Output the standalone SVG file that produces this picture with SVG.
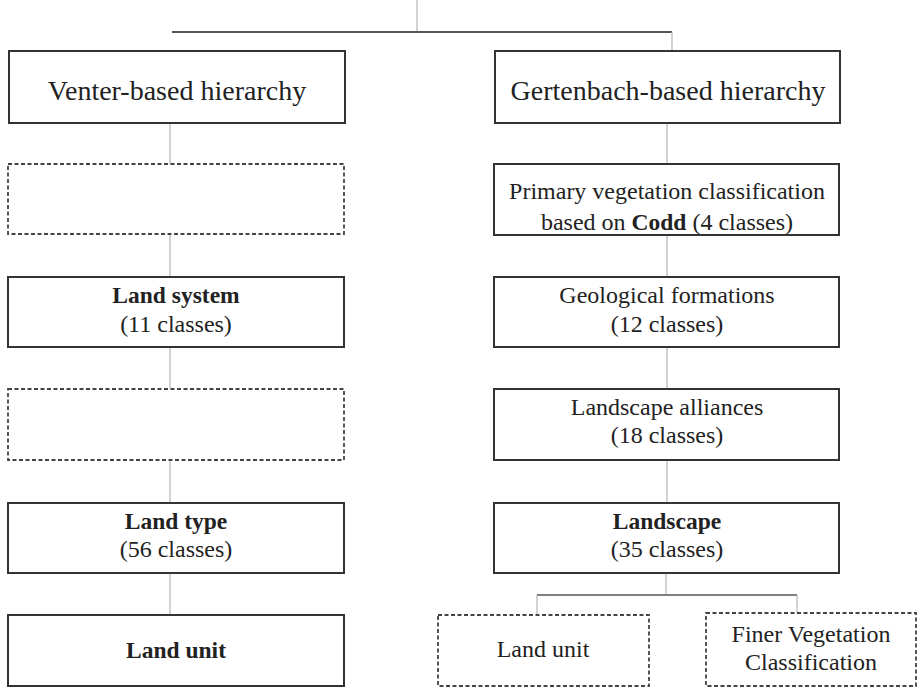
<svg xmlns="http://www.w3.org/2000/svg" width="924" height="687" viewBox="0 0 924 687">
<style>
.box{fill:#fff;stroke:#333;stroke-width:2}
.dash{fill:#fff;stroke:#444;stroke-width:1.8;stroke-dasharray:4 2.5}
.c{stroke:#b5b5b5;stroke-width:1.2;fill:none}
.h{stroke:#555;stroke-width:2;fill:none}
text{font-family:"Liberation Serif","Times New Roman",serif;fill:#222;text-anchor:middle}
.t{font-size:28px}
.s{font-size:24px}
.b{font-weight:bold;font-size:23.5px}
</style>
<rect width="924" height="687" fill="#fff"/>
<g id="connectors">
<line class="c" x1="417" y1="0" x2="417" y2="32"/>
<line class="h" x1="172" y1="32" x2="672" y2="32"/>
<line class="c" x1="672" y1="32" x2="672" y2="51"/>
<line class="c" x1="170" y1="123" x2="170" y2="164"/>
<line class="c" x1="170" y1="234" x2="170" y2="277"/>
<line class="c" x1="170" y1="347" x2="170" y2="389"/>
<line class="c" x1="170" y1="460" x2="170" y2="503"/>
<line class="c" x1="170" y1="573" x2="170" y2="615"/>
<line class="c" x1="667" y1="123" x2="667" y2="164"/>
<line class="c" x1="667" y1="235" x2="667" y2="277"/>
<line class="c" x1="667" y1="347" x2="667" y2="389"/>
<line class="c" x1="667" y1="460" x2="667" y2="503"/>
<line class="c" x1="666" y1="573" x2="666" y2="595"/>
<line class="h" x1="537" y1="595" x2="797" y2="595" style="stroke-width:1.6"/>
<line class="c" x1="537" y1="595" x2="537" y2="615"/>
<line class="c" x1="797" y1="595" x2="797" y2="613"/>
</g>
<g id="venter">
<rect class="box" x="9" y="51" width="336" height="72"/>
<text class="t" x="177" y="100">Venter-based hierarchy</text>
</g>
<g id="gertenbach">
<rect class="box" x="495" y="51" width="345" height="72"/>
<text class="t" x="668" y="100">Gertenbach-based hierarchy</text>
</g>
<g id="left-empty-1">
<rect class="dash" x="8" y="164" width="336" height="70"/>
</g>
<g id="land-system">
<rect class="box" x="8" y="277" width="336" height="70"/>
<text class="s b" x="176" y="303">Land system</text>
<text class="s" x="176" y="332">(11 classes)</text>
</g>
<g id="left-empty-2">
<rect class="dash" x="8" y="389" width="336" height="71"/>
</g>
<g id="land-type">
<rect class="box" x="8" y="503" width="336" height="70"/>
<text class="s b" x="176" y="529">Land type</text>
<text class="s" x="176" y="557">(56 classes)</text>
</g>
<g id="land-unit-left">
<rect class="box" x="8" y="615" width="336" height="71"/>
<text class="s b" x="176" y="658">Land unit</text>
</g>
<g id="primary">
<rect class="box" x="494" y="164" width="345" height="71"/>
<text class="s" x="667" y="199">Primary vegetation classification</text>
<text class="s" x="667" y="230">based on <tspan class="b">Codd</tspan> (4 classes)</text>
</g>
<g id="geological">
<rect class="box" x="494" y="277" width="345" height="70"/>
<text class="s" x="667" y="303">Geological formations</text>
<text class="s" x="667" y="332">(12 classes)</text>
</g>
<g id="alliances">
<rect class="box" x="494" y="389" width="345" height="71"/>
<text class="s" x="667" y="415">Landscape alliances</text>
<text class="s" x="667" y="443">(18 classes)</text>
</g>
<g id="landscape">
<rect class="box" x="494" y="503" width="345" height="70"/>
<text class="s b" x="667" y="529">Landscape</text>
<text class="s" x="667" y="557">(35 classes)</text>
</g>
<g id="land-unit-right">
<rect class="dash" x="438" y="615" width="211" height="71"/>
<text class="s" x="543" y="657">Land unit</text>
</g>
<g id="finer">
<rect class="dash" x="706" y="613" width="210" height="73"/>
<text class="s" x="811" y="642">Finer Vegetation</text>
<text class="s" x="811" y="670">Classification</text>
</g>
</svg>
